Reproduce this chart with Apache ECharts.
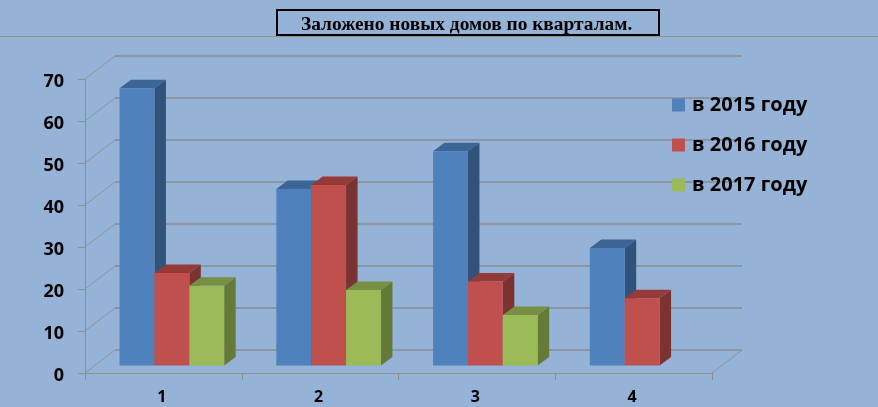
<!DOCTYPE html>
<html>
<head>
<meta charset="utf-8">
<style>html,body{margin:0;padding:0;background:#95b3d7}#c{width:878px;height:407px}</style>
<script src="https://cdn.jsdelivr.net/npm/echarts@6/dist/echarts.min.js"></script>
</head>
<body>
<div id="c"></div>
<script>
var quarters = ['1', '2', '3', '4'];
var y2015 = [66, 42, 51, 28];
var y2016 = [22, 43, 20, 16];
var y2017 = [19, 18, 12, null];
var valueTicks = [0, 10, 20, 30, 40, 50, 60, 70];
var seriesNames = ['в 2015 году', 'в 2016 году', 'в 2017 году'];
var titleText = 'Заложено новых домов по кварталам.';

var palettes = [
  {front: '#4f81bd', top: '#3c6494', side: '#31527b'},
  {front: '#c0504d', top: '#943b39', side: '#7a3330'},
  {front: '#9bbb59', top: '#778f43', side: '#667a38'}
];
var DX = 11.5, DY = -8.5, OFF_X = 8.5, OFF_Y = -7.5;
var WALL_DX = 30, WALL_DY = -23;

function wallItem(params, api) {
  var v = api.value(1);
  var cw = api.size([1, 0])[0];
  var p0 = api.coord([0, v]);
  var p3 = api.coord([3, v]);
  var xl = p0[0] - cw / 2, xr = p3[0] + cw / 2, y = p0[1];
  var children = [
    {type: 'line', shape: {x1: xl, y1: y, x2: xl + WALL_DX, y2: y + WALL_DY},
      style: {stroke: '#8e9499', lineWidth: 1}},
    {type: 'line', shape: {x1: xl + WALL_DX, y1: y + WALL_DY, x2: xr + WALL_DX, y2: y + WALL_DY},
      style: {stroke: '#8b95a3', lineWidth: 2}}
  ];
  if (v === 0) {
    children.push({type: 'line', shape: {x1: xr, y1: y, x2: xr + WALL_DX, y2: y + WALL_DY},
      style: {stroke: '#8e9499', lineWidth: 1}});
  }
  return {type: 'group', children: children};
}

function barItem(idx) {
  return function (params, api) {
    var v = api.value(1);
    if (v === null || isNaN(v)) return null;
    var cat = api.value(0);
    var cw = api.size([1, 0])[0];
    var w = cw * 0.2225;
    var c = api.coord([cat, v]);
    var b = api.coord([cat, 0]);
    var x0 = c[0] + OFF_X + (idx - 1.5) * w, x1 = x0 + w;
    var yt = c[1] + OFF_Y, yb = b[1] + OFF_Y;
    var p = palettes[idx];
    return {type: 'group', children: [
      {type: 'polygon', shape: {points: [[x1, yt], [x1 + DX, yt + DY], [x1 + DX, yb + DY], [x1, yb]]},
        style: {fill: p.side}},
      {type: 'polygon', shape: {points: [[x0, yt], [x0 + DX, yt + DY], [x1 + DX, yt + DY], [x1, yt]]},
        style: {fill: p.top}},
      {type: 'rect', shape: {x: x0, y: yt, width: w, height: yb - yt},
        style: {fill: p.front}}
    ]};
  };
}

function rows(values) {
  return values.map(function (v, i) { return [i, v]; });
}

var series = [{
  type: 'custom', name: 'wall', silent: true, clip: false, z: 1,
  renderItem: wallItem,
  data: valueTicks.map(function (t) { return [0, t]; }),
  encode: {x: 0, y: 1}
}];
[y2015, y2016, y2017].forEach(function (vals, i) {
  series.push({
    type: 'custom', name: seriesNames[i], clip: false, z: 3 + i,
    itemStyle: {color: palettes[i].front},
    renderItem: barItem(i),
    data: rows(vals),
    encode: {x: 0, y: 1}
  });
});

var axisColor = '#8e9090';
var chart = echarts.init(document.getElementById('c'), null, {renderer: 'canvas'});
chart.setOption({
  animation: false,
  backgroundColor: '#95b3d7',
  title: {
    text: titleText,
    left: 277, top: 13,
    padding: [5, 27, 1, 24],
    borderColor: '#000', borderWidth: 2,
    backgroundColor: '#95b3d7',
    textStyle: {fontFamily: 'Liberation Serif', fontWeight: 'bold', fontSize: 19.4, color: '#000', lineHeight: 13}
  },
  graphic: [{
    type: 'line', z: -1, silent: true,
    shape: {x1: 0, y1: 36.5, x2: 878, y2: 36.5},
    style: {stroke: '#8f9086', lineWidth: 1}
  }],
  legend: {
    data: seriesNames, orient: 'vertical', left: 672, top: 94,
    icon: 'rect', itemWidth: 13, itemHeight: 13, itemGap: 18,
    selectedMode: false, padding: 0,
    textStyle: {fontFamily: 'Open Sans', fontWeight: 'bold', fontSize: 20, lineHeight: 22, color: '#000', padding: [0, 0, 0, 2]}
  },
  grid: {left: 85, right: 166, top: 79, bottom: 34},
  xAxis: {
    type: 'category', data: quarters,
    axisLine: {show: true, lineStyle: {color: axisColor, width: 1}},
    axisTick: {show: true, length: 7, alignWithLabel: false, lineStyle: {color: axisColor}},
    axisLabel: {margin: 16, padding: [0, 3, 0, 0], fontFamily: 'Open Sans', fontWeight: 'bold', fontSize: 16, color: '#000'},
    splitLine: {show: false}
  },
  yAxis: {
    type: 'value', min: 0, max: 70, interval: 10,
    axisLine: {show: true, lineStyle: {color: axisColor, width: 1}},
    axisTick: {show: true, length: 7, lineStyle: {color: axisColor}},
    axisLabel: {
      margin: 21,
      formatter: '{n|{value}}',
      rich: {n: {padding: [5, 0, 0, 0], fontFamily: 'Open Sans', fontWeight: 'bold', fontSize: 18, color: '#000'}}
    },
    splitLine: {show: false}
  },
  series: series
});
</script>
</body>
</html>
